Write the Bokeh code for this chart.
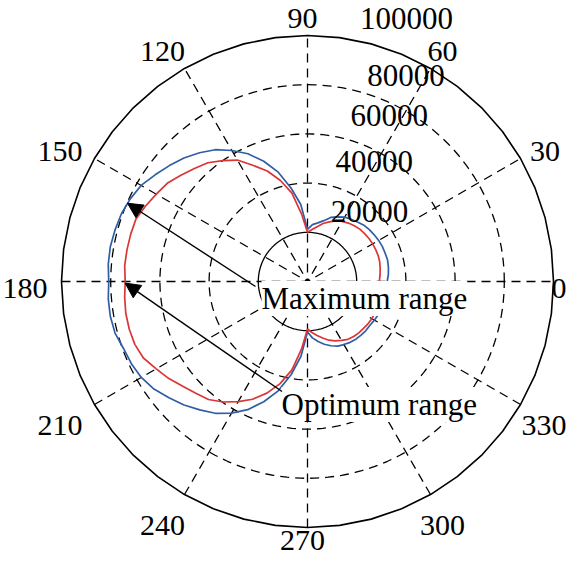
import numpy as np
from bokeh.plotting import figure
from bokeh.models import ColumnDataSource, Range1d, Arrow, NormalHead, Label
from bokeh.core.properties import value
from bokeh.embed import file_html
from bokeh.resources import INLINE

# ---------------- data ----------------
angles_deg = [0, 5, 10, 15, 20, 25, 30, 35, 40, 45, 50, 55, 60, 65, 70, 75, 80, 85,
              90, 95, 100, 105, 110, 115, 120, 125, 130, 135, 140, 145, 150, 155, 160, 165, 170, 175,
              180, 185, 190, 195, 200, 205, 210, 215, 220, 225, 230, 235, 240, 245, 250, 255, 260, 265,
              270, 275, 280, 285, 290, 295, 300, 305, 310, 315, 320, 325, 330, 335, 340, 345, 350, 355]

max_range = [32400, 33000, 33400, 33700, 33600, 33600, 33400, 33100, 32800, 32400, 31600, 30900,
             30200, 29000, 27700, 25600, 24200, 23200,
             21200, 31400, 38600, 46000, 52000, 57300, 61500, 65400, 68300, 71000, 73300, 75600,
             78100, 79500, 80500, 81000, 81400, 81300,
             80800, 81300, 81400, 81000, 79600, 79000, 78000, 76200, 73500, 71000, 68100, 65400,
             61800, 57500, 52000, 46000, 38500, 30500,
             20500, 23000, 24800, 26400, 27800, 29000, 29600, 30200, 30600, 30800, 31000, 31000,
             31400, 31800, 32000, 32200, 32300, 32400]

opt_range = [29200, 29600, 30000, 30400, 30600, 30600, 30600, 30500, 30300, 30100, 29600, 29000,
             28200, 27200, 25800, 24400, 22600, 21200,
             20000, 27500, 36500, 42500, 47800, 52000, 57000, 60000, 63000, 65000, 67200, 69600,
             71000, 72600, 74200, 74400, 74500, 74600,
             74100, 74600, 75000, 75000, 74700, 73600, 71000, 68800, 66200, 64200, 62600, 59800,
             56400, 52800, 48300, 43000, 36500, 27500,
             19300, 20800, 22300, 23800, 25400, 26600, 27600, 28700, 29200, 29500, 29700, 30000,
             30200, 30300, 30200, 30000, 29700, 29400]

ring_values = [20000, 40000, 60000, 80000, 100000]
ring_labels = ["20000", "40000", "60000", "80000", "100000"]
angle_ticks = [0, 30, 60, 90, 120, 150, 180, 210, 240, 270, 300, 330]
angle_labels = ["0", "30", "60", "90", "120", "150", "180", "210", "240", "270", "300", "330"]

# ---------------- layout ----------------
W, H = 568, 557
PX = 0.00246                 # pixels per data unit
CX, CY = 307, 281            # centre in canvas pixels
def ux(px):  # canvas x -> data
    return (px - CX) / PX
def uy(py):  # canvas y -> data
    return (CY - py) / PX

X0, X1 = ux(0), ux(W)
Y1, Y0 = uy(0), uy(H)
RMAX = 100000
FONT = "Liberation Serif"
FS = "31px"
FS_ANG = "30px"
HH = 17.5 / PX                # half text-box height (data units)
# small screen-pixel nudges of the range labels (dx right, dy down)
RANGE_NUDGE = [(-4, 0), (-6, -2), (2, 1), (12, 10), (-2, 0)]

p = figure(width=W, height=H, x_range=Range1d(X0, X1), y_range=Range1d(Y0, Y1),
           output_backend="svg", toolbar_location=None, min_border=0,
           x_axis_location=None, y_axis_location=None, background_fill_color="white",
           border_fill_color="white")
p.grid.visible = False
p.outline_line_color = None

# grid rings
th = np.linspace(0, 2 * np.pi, 181)
for i, rv in enumerate(ring_values[:-1]):
    p.line(rv * np.cos(th), rv * np.sin(th), line_color="black", line_width=1.3,
           line_dash="solid" if i == 0 else "9 6")

# spokes
for a in angle_ticks[:6]:
    t = np.deg2rad(a)
    p.line([-RMAX * np.cos(t), RMAX * np.cos(t)], [-RMAX * np.sin(t), RMAX * np.sin(t)],
           line_color="black", line_width=1.3, line_dash="9 6")

# outer boundary (faceted circle)
tho = np.deg2rad(np.arange(0, 367.5, 7.5))
p.line(RMAX * np.cos(tho), RMAX * np.sin(tho), line_color="black", line_width=1.6)

# data curves
ang_deg = np.array(angles_deg + [angles_deg[0] + 360], dtype=float)
ang = np.deg2rad(ang_deg)
rmx = np.array(max_range + [max_range[0]], dtype=float)
rop = np.array(opt_range + [opt_range[0]], dtype=float)
src = ColumnDataSource(dict(xm=rmx * np.cos(ang), ym=rmx * np.sin(ang),
                            xo=rop * np.cos(ang), yo=rop * np.sin(ang)))
p.line("xm", "ym", source=src, line_color="#2f5ea6", line_width=1.7)
p.line("xo", "yo", source=src, line_color="#dc3535", line_width=1.7)

# angle labels
lcx, lcy, lrx, lry = ux(302), uy(288), 280 / PX, 274 / PX
ax, ay = [], []
for a, s in zip(angle_ticks, angle_labels):
    t = np.deg2rad(a)
    x = lcx + lrx * np.cos(t)
    y = lcy + lry * np.sin(t)
    hw = (0.25 * 30 * len(s) + 2) / PX
    x = min(max(x, X0 + hw), X1 - hw)
    y = min(max(y, Y0 + HH), Y1 - HH)
    ax.append(x)
    ay.append(y)
p.text(x=ax, y=ay, text=angle_labels, text_font=value(FONT), text_font_size=FS_ANG,
       text_align="center", text_baseline="middle", text_color="black")

# range labels (along 82 degrees, as MATLAB polar does)
c82, s82 = np.cos(np.deg2rad(82)), np.sin(np.deg2rad(82))
rx_, ry_ = [], []
for rv, (ndx, ndy) in zip(ring_values, RANGE_NUDGE):
    rr = rv + ring_values[0] / 20
    rx_.append(rr * c82 + (20 + ndx) / PX)
    ry_.append(min(rr * s82 + (18.5 - ndy) / PX, Y1 - HH))
p.text(x=rx_, y=ry_, text=ring_labels, text_font=value(FONT), text_font_size=FS,
       text_align="left", text_baseline="middle", text_color="black")

# annotations
p.add_layout(Label(x=ux(261), y=uy(298), text="Maximum range", text_font=FONT,
                   text_font_size=FS, text_align="left", text_baseline="middle",
                   background_fill_color="white", text_color="black"))
p.add_layout(Label(x=ux(281), y=uy(404), text="Optimum range", text_font=FONT,
                   text_font_size=FS, text_align="left", text_baseline="middle",
                   background_fill_color="white", text_color="black"))

def on_curve(r, deg):
    rv = np.interp(deg, ang_deg, r)
    t = np.deg2rad(deg)
    return rv * np.cos(t), rv * np.sin(t)

t1x, t1y = on_curve(rmx, 156.5)
t2x, t2y = on_curve(rop, 180.5)
p.add_layout(Arrow(end=NormalHead(size=15, fill_color="black", line_color="black", line_width=1),
                   x_start=ux(255), y_start=uy(286), x_end=t1x, y_end=t1y,
                   line_color="black", line_width=1.4))
p.add_layout(Arrow(end=NormalHead(size=15, fill_color="black", line_color="black", line_width=1),
                   x_start=ux(281.5), y_start=uy(391), x_end=t2x, y_end=t2y,
                   line_color="black", line_width=1.4))

open("out.html", "w").write(file_html(p, INLINE))
